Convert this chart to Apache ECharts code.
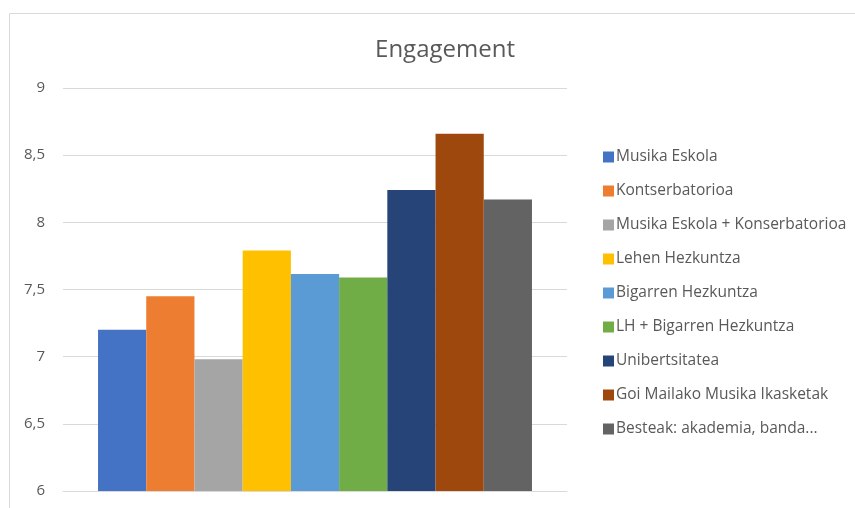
<!DOCTYPE html>
<html><head><meta charset="utf-8">
<script src="https://cdn.jsdelivr.net/npm/echarts@6/dist/echarts.min.js"></script>
<style>html,body{margin:0;padding:0;background:#fff}#c{width:855px;height:508px}</style>
</head><body><div id="c"></div>
<script>
const categories = ['Engagement'];
const seriesNames = ['Musika Eskola','Kontserbatorioa','Musika Eskola + Konserbatorioa','Lehen Hezkuntza','Bigarren Hezkuntza','LH + Bigarren Hezkuntza','Unibertsitatea','Goi Mailako Musika Ikasketak','Besteak: akademia, banda...'];
const seriesValues = [7.20, 7.45, 6.98, 7.79, 7.615, 7.59, 8.24, 8.66, 8.17];
const colors = ['#4472C4','#ED7D31','#A5A5A5','#FFC000','#5B9BD5','#70AD47','#264478','#9E480E','#636363'];
const yTicks = {min: 6, max: 9, interval: 0.5};

const chart = echarts.init(document.getElementById('c'));
const font = 'Open Sans';
chart.setOption({
  animation: false,
  color: colors,
  graphic: [{type:'rect', shape:{x:9.5,y:13.5,width:900,height:600}, style:{fill:'none', stroke:'#d9d9d9', lineWidth:1}, silent:true}],
  title: {text: 'Engagement', left: 440, top: 33, textAlign: 'center',
    textStyle: {fontFamily: font, fontSize: 24, fontWeight: 'normal', color: '#595959'}},
  grid: {left: 63, right: 288, top: 88, bottom: 17, containLabel: false},
  legend: {orient: 'vertical', left: 598, top: 144, itemWidth: 11, itemHeight: 11, itemGap: 18,
    icon: 'rect', textStyle: {fontFamily: font, fontSize: 15.5, lineHeight: 16, color: '#595959', padding:[0,0,0,-3]},
    data: seriesNames},
  xAxis: {type: 'category', data: categories, axisLine: {show: true, lineStyle: {color: '#d9d9d9'}},
    axisTick: {show: false}, axisLabel: {show: false}},
  yAxis: {type: 'value', min: yTicks.min, max: yTicks.max, interval: yTicks.interval,
    axisLine: {show: false}, axisTick: {show: false},
    splitLine: {lineStyle: {color: '#d9d9d9', width: 1}},
    axisLabel: {margin: 18, fontFamily: font, fontSize: 15, color: '#595959',
      formatter: v => String(v).replace('.', ',')}},
  series: seriesNames.map((n, i) => ({
    name: n, type: 'bar', data: [seriesValues[i]], barGap: '0%', barCategoryGap: '13.9%'
  }))
});
</script></body></html>
